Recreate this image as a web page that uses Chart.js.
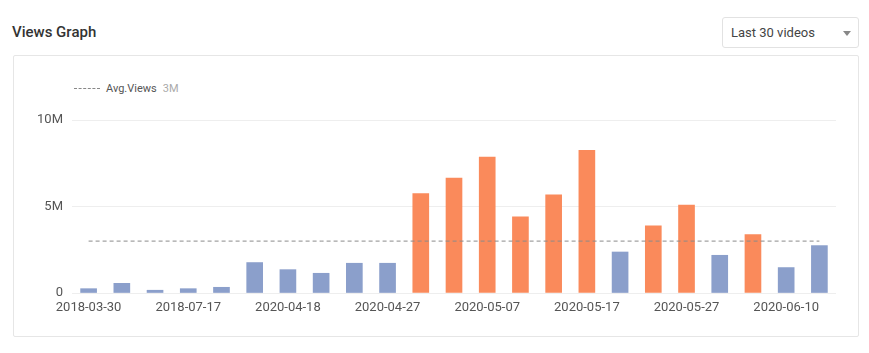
<!DOCTYPE html>
<html>
<head>
<meta charset="utf-8">
<script src="https://cdn.jsdelivr.net/npm/chart.js@4/dist/chart.umd.min.js"></script>
<style>
  body { margin: 0; background: #fff; font-family: Roboto, "Noto Sans", sans-serif; }
  .wrap { position: relative; width: 869px; height: 353px; }
  .title { position: absolute; left: 12px; top: 23px; font-size: 15px; font-weight: 500; color: #333; }
  .select { position: absolute; left: 722px; top: 17px; width: 137px; height: 31px; box-sizing: border-box;
    border: 1px solid #e2e2e2; border-radius: 3px; font-size: 13px; color: #444; line-height: 29px; padding-left: 8px; }
  .select .caret { position: absolute; right: 7px; top: 13px; width: 0; height: 0;
    border-left: 4px solid transparent; border-right: 4px solid transparent; border-top: 5px solid #888; }
  .card { position: absolute; left: 13px; top: 55px; width: 846px; height: 282px; box-sizing: border-box;
    border: 1px solid #e6e6e6; border-radius: 2px; }
  .legend { position: absolute; left: 74px; top: 82px; font-size: 11px; color: #555; display: flex; align-items: center; }
  .legend .dash { width: 26px; border-top: 1px dashed #888; margin-right: 6px; }
  .legend .val { color: #aaa; margin-left: 6px; }
  .chart { position: absolute; left: 14px; top: 56px; width: 844px; height: 280px; }
</style>
</head>
<body>
<div class="wrap">
  <div class="title">Views Graph</div>
  <div class="select">Last 30 videos<span class="caret"></span></div>
  <div class="card"></div>
  <div class="legend"><span class="dash"></span>Avg.Views<span class="val">3M</span></div>
  <div class="chart"><canvas id="views"></canvas></div>
</div>
<script>
// video publish dates (only every 3rd shown on the axis)
const dates = [
  '2018-03-30', '2018-05-14', '2018-06-22', '2018-07-17', '2019-02-08', '2020-04-12',
  '2020-04-18', '2020-04-21', '2020-04-24', '2020-04-27', '2020-04-30', '2020-05-04',
  '2020-05-07', '2020-05-10', '2020-05-14', '2020-05-17', '2020-05-20', '2020-05-24',
  '2020-05-27', '2020-05-31', '2020-06-05', '2020-06-10', '2020-06-14'
];
// views in millions
const views = [
  0.25, 0.56, 0.16, 0.25, 0.33, 1.76,
  1.35, 1.14, 1.72, 1.72, 5.75, 6.64,
  7.86, 4.4, 5.68, 8.24, 2.37, 3.88,
  5.08, 2.18, 3.38, 1.47, 2.74
];
const avgViews = 3;
const yTicks = [0, 5, 10];

const BLUE = '#8b9fcb';
const ORANGE = '#fa8a5b';

new Chart(document.getElementById('views'), {
  data: {
    labels: dates,
    datasets: [
      {
        type: 'line',
        data: dates.map(() => avgViews),
        borderColor: '#8a8a8a',
        borderWidth: 1,
        borderDash: [4, 3],
        pointRadius: 0,
        fill: false,
        order: 0,
      },
      {
        type: 'bar',
        data: views,
        backgroundColor: views.map(v => v > avgViews ? ORANGE : BLUE),
        barThickness: 16,
        order: 1,
      },
    ],
  },
  options: {
    responsive: true,
    maintainAspectRatio: false,
    animation: false,
    layout: { padding: { top: 64, right: 22, left: 0, bottom: 0 } },
    plugins: { legend: { display: false }, tooltip: { enabled: false } },
    scales: {
      x: {
        grid: { display: false, drawTicks: false },
        border: { display: false },
        afterFit: s => { s.height = 43; },
        ticks: {
          autoSkip: false,
          maxRotation: 0,
          padding: 7,
          color: '#555',
          font: { family: 'Roboto', size: 13 },
          callback: (v, i) => i % 3 === 0 ? dates[i] : '',
        },
      },
      y: {
        min: 0,
        max: 10,
        afterFit: s => { s.width = 58; },
        afterBuildTicks: s => { s.ticks = yTicks.map(v => ({ value: v })); },
        grid: { color: '#eeeeee', drawTicks: false },
        border: { display: false },
        ticks: {
          padding: 9,
          color: '#555',
          font: { family: 'Roboto', size: 13 },
          callback: v => v === 0 ? '0' : v + 'M',
        },
      },
    },
  },
});
</script>
</body>
</html>
